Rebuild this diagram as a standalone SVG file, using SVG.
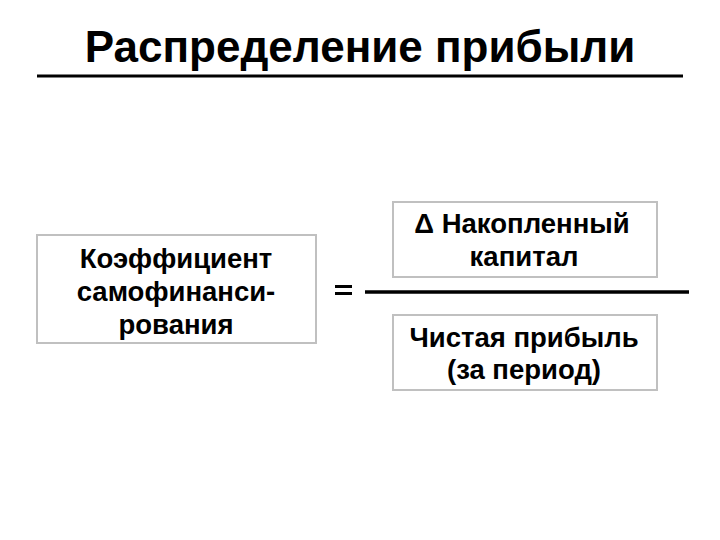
<svg xmlns="http://www.w3.org/2000/svg" width="720" height="540" viewBox="0 0 720 540">
<style>
.box{fill:#fff;stroke:#c0c0c0;stroke-width:2}
.t{font-family:"Liberation Sans",Arial,sans-serif;font-weight:bold;font-size:27.5px;fill:#000;text-anchor:middle}
.title{font-family:"Liberation Sans",Arial,sans-serif;font-weight:bold;font-size:44px;fill:#000;text-anchor:middle}
</style>
<rect width="720" height="540" fill="#fff"/>
<g id="title">
<text class="title" x="360" y="62">Распределение прибыли</text>
<line x1="37" y1="76" x2="683" y2="76" stroke="#000" stroke-width="3"/>
</g>
<g id="coef">
<rect class="box" x="37" y="235" width="279" height="108"/>
<text class="t" x="176" y="268">Коэффициент</text>
<text class="t" x="176" y="301">самофинанси-</text>
<text class="t" x="176" y="334">рования</text>
</g>
<g id="numerator">
<rect class="box" x="393" y="202" width="264" height="75"/>
<text class="t" x="522" y="233">Δ Накопленный</text>
<text class="t" x="524" y="266">капитал</text>
</g>
<g id="denominator">
<rect class="box" x="393" y="315" width="264" height="75"/>
<text class="t" x="524" y="347">Чистая прибыль</text>
<text class="t" x="524" y="379">(за период)</text>
</g>
<g id="connectors">
<rect x="335" y="285" width="17" height="3" fill="#000"/>
<rect x="335" y="292" width="17" height="3" fill="#000"/>
<line x1="365" y1="292" x2="689" y2="292" stroke="#000" stroke-width="3.5"/>
</g>
</svg>
